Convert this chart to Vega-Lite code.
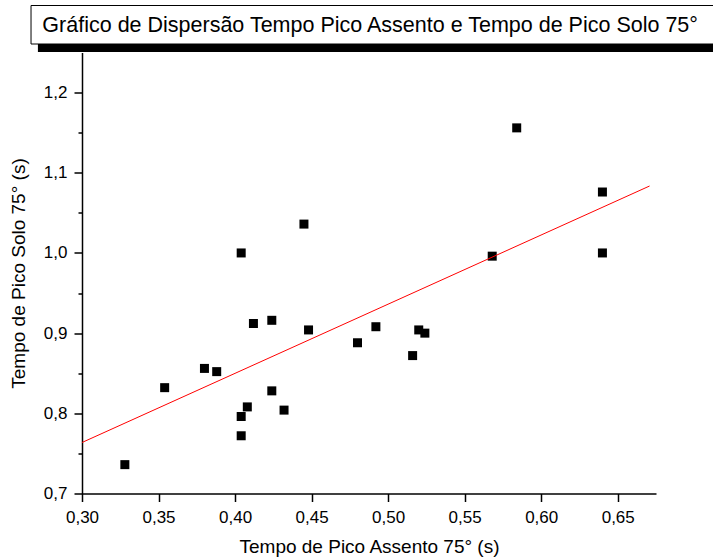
{
  "$schema": "https://vega.github.io/schema/vega-lite/v6.json",
  "width": 574,
  "height": 441,
  "autosize": {"type": "none"},
  "padding": {"left": 82, "top": 52.5, "right": 57, "bottom": 65.5},
  "background": "white",
  "config": {"view": {"stroke": null}, "font": "Liberation Sans"},
  "datasets": {
    "pts": [
      {"x": 0.445, "y": 1.036},
      {"x": 0.404, "y": 1.0},
      {"x": 0.412, "y": 0.912},
      {"x": 0.424, "y": 0.916},
      {"x": 0.448, "y": 0.904},
      {"x": 0.492, "y": 0.908},
      {"x": 0.480, "y": 0.888},
      {"x": 0.520, "y": 0.904},
      {"x": 0.524, "y": 0.900},
      {"x": 0.516, "y": 0.872},
      {"x": 0.380, "y": 0.856},
      {"x": 0.388, "y": 0.852},
      {"x": 0.354, "y": 0.832},
      {"x": 0.424, "y": 0.828},
      {"x": 0.408, "y": 0.808},
      {"x": 0.404, "y": 0.796},
      {"x": 0.432, "y": 0.804},
      {"x": 0.404, "y": 0.772},
      {"x": 0.584, "y": 1.156},
      {"x": 0.640, "y": 1.076},
      {"x": 0.568, "y": 0.996},
      {"x": 0.640, "y": 1.000},
      {"x": 0.328, "y": 0.736}
    ],
    "fit": [
      {"x": 0.300, "y": 0.7636},
      {"x": 0.6708, "y": 1.0835}
    ]
  },
  "layer": [
    {
      "data": {"name": "pts"},
      "mark": {"type": "square", "size": 81, "filled": true, "color": "black", "opacity": 1},
      "encoding": {
        "x": {
          "field": "x", "type": "quantitative",
          "scale": {"domain": [0.3, 0.675], "nice": false, "zero": false},
          "title": "Tempo de Pico Assento 75° (s)",
          "axis": {
            "values": [0.3, 0.325, 0.35, 0.375, 0.4, 0.425, 0.45, 0.475, 0.5, 0.525, 0.55, 0.575, 0.6, 0.625, 0.65, 0.675],
            "labelExpr": "abs(datum.value*20 - round(datum.value*20)) < 0.001 ? replace(format(datum.value, '.2f'), '.', ',') : ''",
            "tickSize": {"condition": {"test": "abs(datum.value*20 - round(datum.value*20)) < 0.001", "value": 8}, "value": 4},
            "grid": false,
            "domainColor": "black", "domainWidth": 1.5,
            "tickColor": "black", "tickWidth": 1.5,
            "labelFont": "Liberation Sans", "labelFontSize": 17, "labelColor": "black", "labelPadding": 8,
            "labelFlush": false, "labelOverlap": false,
            "titleFont": "Liberation Sans", "titleFontSize": 19, "titleFontWeight": "normal", "titleColor": "black", "titlePadding": 12
          }
        },
        "y": {
          "field": "y", "type": "quantitative",
          "scale": {"domain": [0.7, 1.25], "nice": false, "zero": false},
          "title": "Tempo de Pico Solo 75° (s)",
          "axis": {
            "values": [0.7, 0.75, 0.8, 0.85, 0.9, 0.95, 1.0, 1.05, 1.1, 1.15, 1.2],
            "labelExpr": "abs(datum.value*10 - round(datum.value*10)) < 0.001 ? replace(format(datum.value, '.1f'), '.', ',') : ''",
            "tickSize": {"condition": {"test": "abs(datum.value*10 - round(datum.value*10)) < 0.001", "value": 8}, "value": 4},
            "grid": false,
            "domainColor": "black", "domainWidth": 1.5,
            "tickColor": "black", "tickWidth": 1.5,
            "labelFont": "Liberation Sans", "labelFontSize": 17, "labelColor": "black", "labelPadding": 7,
            "labelFlush": false, "labelOverlap": false,
            "titleFont": "Liberation Sans", "titleFontSize": 19, "titleFontWeight": "normal", "titleColor": "black", "titlePadding": 15
          }
        }
      }
    },
    {
      "data": {"values": [{}]},
      "mark": {"type": "rect", "color": "black", "clip": false},
      "encoding": {
        "x": {"datum": 0.2712, "type": "quantitative", "title": "Tempo de Pico Assento 75° (s)"},
        "x2": {"datum": 0.73},
        "y": {"datum": 1.2999, "type": "quantitative", "title": "Tempo de Pico Solo 75° (s)"},
        "y2": {"datum": 1.2506}
      }
    },
    {
      "data": {"values": [{}]},
      "mark": {"type": "rect", "fill": "white", "stroke": "black", "strokeWidth": 1, "clip": false},
      "encoding": {
        "x": {"datum": 0.2667, "type": "quantitative", "title": "Tempo de Pico Assento 75° (s)"},
        "x2": {"datum": 0.73},
        "y": {"datum": 1.3086, "type": "quantitative", "title": "Tempo de Pico Solo 75° (s)"},
        "y2": {"datum": 1.2606}
      }
    },
    {
      "data": {"values": [{}]},
      "mark": {"type": "text", "align": "left", "baseline": "alphabetic", "fontSize": 21.5, "font": "Liberation Sans", "color": "black", "clip": false},
      "encoding": {
        "x": {"datum": 0.2741, "type": "quantitative", "title": "Tempo de Pico Assento 75° (s)"},
        "y": {"datum": 1.2752, "type": "quantitative", "title": "Tempo de Pico Solo 75° (s)"},
        "text": {"value": "Gráfico de Dispersão Tempo Pico Assento e Tempo de Pico Solo 75°"}
      }
    },
    {
      "data": {"name": "fit"},
      "mark": {"type": "line", "color": "#ff0000", "strokeWidth": 1, "clip": false},
      "encoding": {
        "x": {"field": "x", "type": "quantitative", "title": "Tempo de Pico Assento 75° (s)"},
        "y": {"field": "y", "type": "quantitative", "title": "Tempo de Pico Solo 75° (s)"}
      }
    }
  ]
}
